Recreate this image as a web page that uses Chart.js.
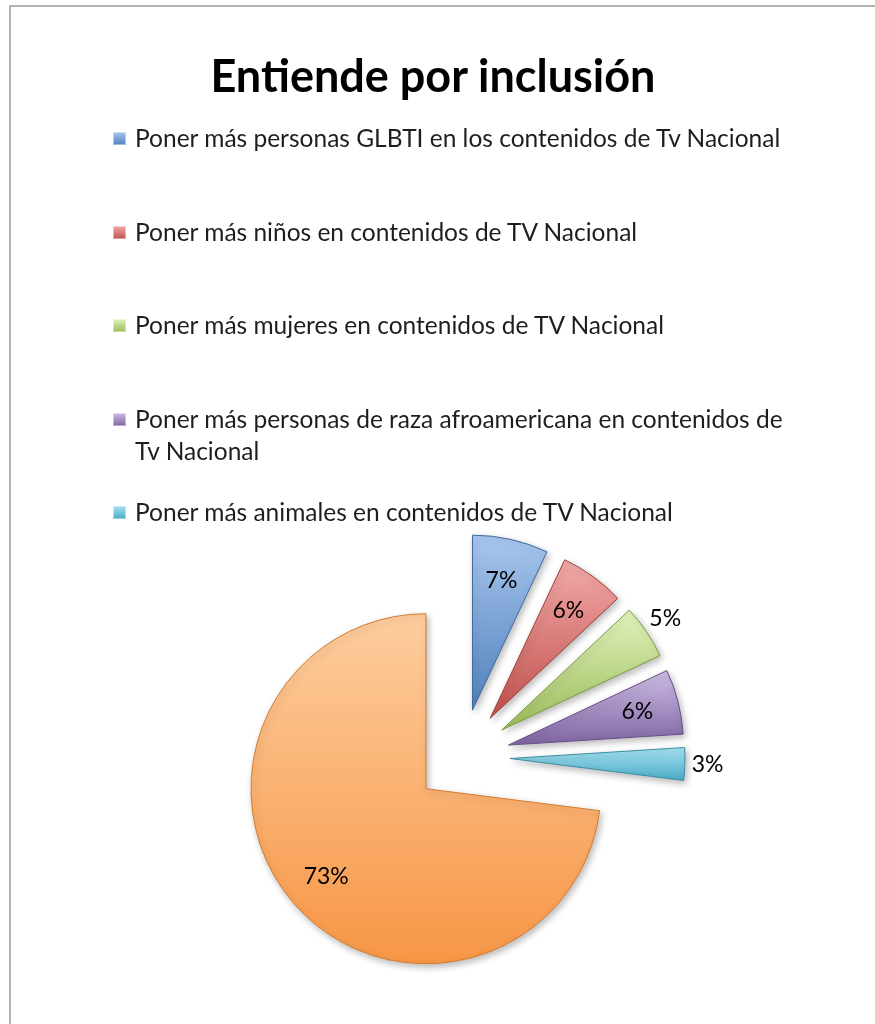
<!DOCTYPE html>
<html>
<head>
<meta charset="utf-8">
<script src="https://cdn.jsdelivr.net/npm/chart.js@4.4.0/dist/chart.umd.min.js"></script>
<style>
  html, body { margin: 0; padding: 0; background: #fff; }
  body { width: 875px; height: 1024px; position: relative; overflow: hidden; font-family: Lato, "Open Sans", sans-serif; }
  #frame { position: absolute; left: 9px; top: 5px; width: 900px; height: 1100px; border: 2px solid #b4b4b4; }
  #pie { position: absolute; left: 0; top: 0; }
  #title { position: absolute; left: 0; top: 45px; width: 866px; text-align: center; font-weight: bold; font-size: 45px; line-height: 60px; color: #000; }
  #legend { position: absolute; left: 110px; top: 122px; width: 720px; }
  .item { position: relative; height: 93.5px; padding-left: 25px; font-size: 24.5px; line-height: 32px; color: #1e1e1e; }
  .sw { position: absolute; left: 3px; top: 10px; width: 13px; height: 13px; box-shadow: inset 0 0 0 1px rgba(255,255,255,0.45); }
  .txt { display: block; width: 665px; }
</style>
</head>
<body>
<div id="frame"></div>
<canvas id="pie" width="875" height="1024"></canvas>
<div id="title">Entiende por inclusión</div>
<div id="legend"></div>

<script>
// ===== Data =====
const labels = [
    "Poner más personas GLBTI en los contenidos de Tv Nacional",
    "Poner más niños en contenidos de TV Nacional",
    "Poner más mujeres en contenidos de TV Nacional",
    "Poner más personas de raza afroamericana en contenidos de Tv Nacional",
    "Poner más animales en contenidos de TV Nacional"
];
// last slice (orange) has no visible legend entry in the original
const values = [7, 6, 5, 6, 3, 73];

// ===== Style =====
const baseColors = ["#4f81bd", "#c0504d", "#9bbb59", "#8064a2", "#4bacc6", "#f79646"];
const lightColors = ["#a9c6ee", "#f2aaa8", "#e2f2bd", "#cdbde6", "#a6e2f2", "#fdcd9e"];
const edgeColors = ["#3f6a9e", "#9e3f3c", "#7d9a45", "#664f86", "#3a8fa6", "#d67a2c"];
const labelOutside = [false, false, true, false, true, false];
const RADIUS = 175;
const EXPLODE = 48;

function sliceAngles(i) {
    const total = values.reduce((a, b) => a + b, 0);
    let before = 0;
    for (let k = 0; k < i; k++) before += values[k];
    const a0 = -Math.PI / 2 + before / total * 2 * Math.PI;
    const a1 = a0 + values[i] / total * 2 * Math.PI;
    return { a0: a0, a1: a1, mid: (a0 + a1) / 2 };
}

// vertical gradient over each slice's own height
function sliceFill(context) {
    const i = context.dataIndex;
    const chart = context.chart;
    const area = chart.chartArea;
    if (!area) return baseColors[i];
    const { a0, a1, mid } = sliceAngles(i);
    const cy = (area.top + area.bottom) / 2 + Math.sin(mid) * EXPLODE;
    const ys = [cy, cy + Math.sin(a0) * RADIUS, cy + Math.sin(a1) * RADIUS];
    [-Math.PI / 2, Math.PI / 2, 3 * Math.PI / 2].forEach(function(t) {
        if (t > a0 && t < a1) ys.push(cy + Math.sin(t) * RADIUS);
    });
    const g = chart.ctx.createLinearGradient(0, Math.min(...ys), 0, Math.max(...ys));
    g.addColorStop(0, lightColors[i]);
    g.addColorStop(1, baseColors[i]);
    return g;
}

// ===== Plugins =====
// push every slice out along its middle angle (Excel "explode")
const explodePlugin = {
    id: "explode",
    afterDatasetUpdate(chart, args) {
        const meta = chart.getDatasetMeta(args.index);
        meta.data.forEach(function(arc) {
            const mid = (arc.startAngle + arc.endAngle) / 2;
            arc.x += Math.cos(mid) * EXPLODE;
            arc.y += Math.sin(mid) * EXPLODE;
        });
    }
};

const shadowPlugin = {
    id: "softShadow",
    beforeDatasetsDraw(chart) {
        const ctx = chart.ctx;
        ctx.save();
        ctx.shadowColor = "rgba(0,0,0,0.28)";
        ctx.shadowBlur = 7;
        ctx.shadowOffsetX = 2;
        ctx.shadowOffsetY = 3;
    },
    afterDatasetsDraw(chart) {
        chart.ctx.restore();
    }
};

const labelPlugin = {
    id: "pctLabels",
    afterDraw(chart) {
        const ctx = chart.ctx;
        const meta = chart.getDatasetMeta(0);
        const total = values.reduce((a, b) => a + b, 0);
        ctx.save();
        ctx.font = "23px Lato, 'Open Sans', sans-serif";
        ctx.fillStyle = "#000";
        ctx.textAlign = "center";
        ctx.textBaseline = "middle";
        meta.data.forEach(function(arc, i) {
            const mid = (arc.startAngle + arc.endAngle) / 2;
            const r = arc.outerRadius * (labelOutside[i] ? 1.13 : 0.76);
            const txt = Math.round(values[i] / total * 100) + "%";
            ctx.fillText(txt, arc.x + Math.cos(mid) * r, arc.y + Math.sin(mid) * r);
        });
        ctx.restore();
    }
};

// ===== Chart =====
const pieChart = new Chart(document.getElementById("pie").getContext("2d"), {
    type: "pie",
    data: {
        labels: labels,
        datasets: [{
            data: values,
            backgroundColor: sliceFill,
            borderColor: edgeColors,
            borderWidth: 1,
            offset: 0,
            clip: false
        }]
    },
    options: {
        responsive: false,
        devicePixelRatio: 1,
        animation: false,
        radius: RADIUS,
        layout: { padding: { left: 200, right: 151, top: 530, bottom: 40 } },
        plugins: {
            legend: { display: false },
            tooltip: { enabled: false },
            title: { display: false }
        }
    },
    plugins: [explodePlugin, shadowPlugin, labelPlugin]
});

// ===== HTML legend (wraps long labels like the original) =====
const legendBox = document.getElementById("legend");
labels.forEach(function(text, i) {
    const item = document.createElement("div");
    item.className = "item";
    const sw = document.createElement("span");
    sw.className = "sw";
    sw.style.background = "linear-gradient(" + lightColors[i] + ", " + baseColors[i] + ")";
    const t = document.createElement("span");
    t.className = "txt";
    t.textContent = text;
    item.appendChild(sw);
    item.appendChild(t);
    legendBox.appendChild(item);
});
</script>
</body>
</html>
